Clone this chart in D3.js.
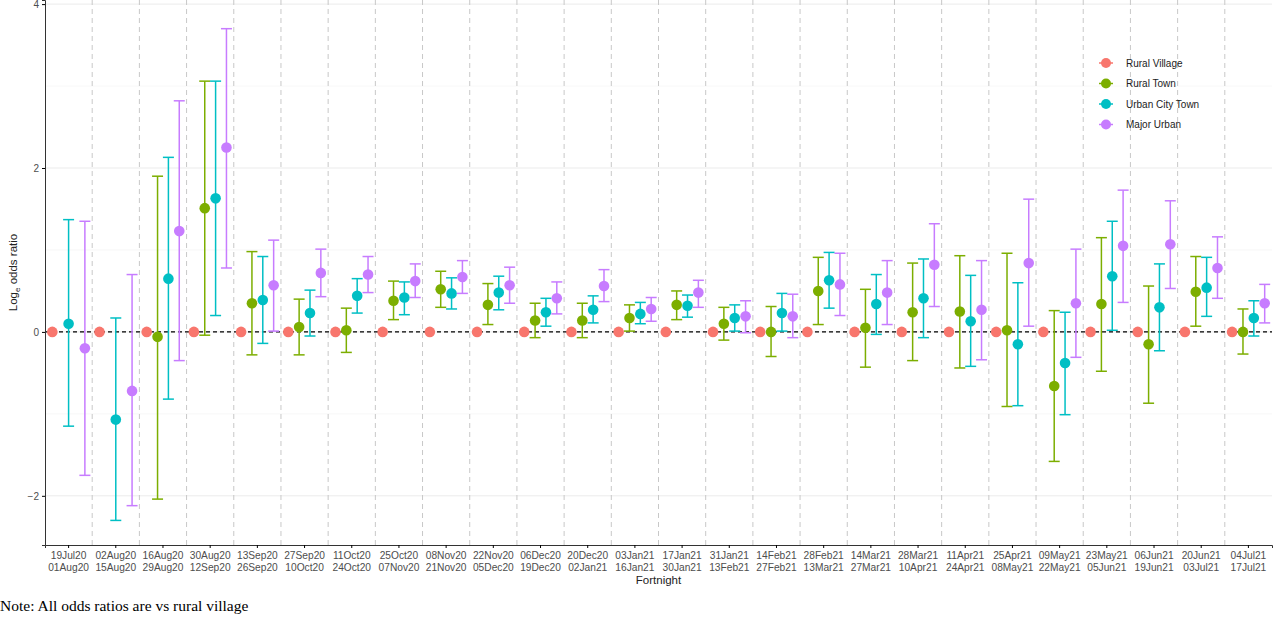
<!DOCTYPE html>
<html><head><meta charset="utf-8">
<script src="https://cdn.jsdelivr.net/npm/d3@7"></script>
<style>body{margin:0;background:#fff}svg{display:block}</style>
</head><body><svg id="c" width="1280" height="617"></svg>
<script>
const startLabels=["19Jul20","02Aug20","16Aug20","30Aug20","13Sep20","27Sep20","11Oct20","25Oct20","08Nov20","22Nov20","06Dec20","20Dec20","03Jan21","17Jan21","31Jan21","14Feb21","28Feb21","14Mar21","28Mar21","11Apr21","25Apr21","09May21","23May21","06Jun21","20Jun21","04Jul21"];
const endLabels=["01Aug20","15Aug20","29Aug20","12Sep20","26Sep20","10Oct20","24Oct20","07Nov20","21Nov20","05Dec20","19Dec20","02Jan21","16Jan21","30Jan21","13Feb21","27Feb21","13Mar21","27Mar21","10Apr21","24Apr21","08May21","22May21","05Jun21","19Jun21","03Jul21","17Jul21"];
const seriesNames=["Rural Village","Rural Town","Urban City Town","Major Urban"];
const seriesColors=["#F8766D","#7CAE00","#00BFC4","#C77CFF"];
// [estimate, lower, upper]; null = not present
const ruralTown=[null,null,[-0.06,-2.04,1.9],[1.51,-0.04,3.06],[0.35,-0.28,0.98],[0.06,-0.28,0.4],[0.02,-0.25,0.29],[0.38,0.15,0.62],[0.52,0.3,0.74],[0.33,0.09,0.59],[0.14,-0.07,0.35],[0.14,-0.07,0.35],[0.17,0.01,0.33],[0.33,0.15,0.5],[0.1,-0.1,0.3],[0,-0.3,0.31],[0.5,0.09,0.91],[0.05,-0.43,0.52],[0.24,-0.35,0.84],[0.25,-0.44,0.93],[0.02,-0.91,0.96],[-0.66,-1.58,0.26],[0.34,-0.48,1.15],[-0.15,-0.87,0.56],[0.49,0.07,0.92],[0,-0.27,0.28]];
const urbanCityTown=[[0.1,-1.15,1.37],[-1.07,-2.3,0.17],[0.65,-0.82,2.13],[1.63,0.2,3.06],[0.39,-0.14,0.92],[0.23,-0.05,0.51],[0.44,0.23,0.65],[0.42,0.21,0.61],[0.47,0.28,0.66],[0.48,0.27,0.68],[0.24,0.07,0.41],[0.27,0.11,0.44],[0.22,0.1,0.36],[0.32,0.18,0.45],[0.17,0.01,0.33],[0.23,0.01,0.47],[0.63,0.29,0.97],[0.34,-0.03,0.7],[0.41,-0.07,0.89],[0.13,-0.42,0.69],[-0.15,-0.9,0.6],[-0.38,-1.01,0.24],[0.68,0.02,1.35],[0.3,-0.23,0.83],[0.54,0.19,0.91],[0.17,-0.05,0.38]];
const majorUrban=[[-0.2,-1.75,1.35],[-0.72,-2.12,0.7],[1.23,-0.35,2.82],[2.25,0.78,3.7],[0.57,0.01,1.12],[0.72,0.43,1.01],[0.7,0.48,0.92],[0.62,0.42,0.83],[0.67,0.47,0.87],[0.57,0.35,0.79],[0.41,0.22,0.61],[0.56,0.37,0.76],[0.28,0.13,0.42],[0.48,0.3,0.63],[0.19,-0.01,0.38],[0.19,-0.07,0.46],[0.58,0.2,0.96],[0.48,0.09,0.87],[0.82,0.31,1.32],[0.27,-0.34,0.87],[0.84,0.07,1.62],[0.35,-0.31,1.01],[1.05,0.36,1.73],[1.07,0.53,1.6],[0.78,0.41,1.16],[0.35,0.11,0.58]];
const ruralVillage=startLabels.map(()=>[0,0,0]);
const yTicks=[-2,0,2,4];

const svg=d3.select("#c");
const L=45,R=1272,T=0,B=545;
const x=d3.scaleBand().domain(startLabels).range([L,R]);
const y=d3.scaleLinear().domain([-2.6,4.05]).range([B,T]);
const all=[ruralVillage,ruralTown,urbanCityTown,majorUrban];
// minor grid
[-1,1,3].forEach(v=>svg.append("line").attr("x1",L).attr("x2",R).attr("y1",y(v)).attr("y2",y(v)).attr("stroke","#f2f2f2").attr("stroke-width",0.6));
yTicks.forEach(v=>svg.append("line").attr("x1",L).attr("x2",R).attr("y1",y(v)).attr("y2",y(v)).attr("stroke","#ebebeb").attr("stroke-width",1));
// separators
startLabels.slice(1).forEach(d=>svg.append("line").attr("x1",x(d)).attr("x2",x(d)).attr("y1",T).attr("y2",B).attr("stroke","#c8c8c8").attr("stroke-dasharray","5,4").attr("stroke-width",1));
svg.append("line").attr("x1",L).attr("x2",R).attr("y1",y(0)).attr("y2",y(0)).attr("stroke","#000").attr("stroke-dasharray","4,3").attr("stroke-width",1.2);
// points
startLabels.forEach((lab,i)=>{
  const present=all.map((s,k)=>({k,v:s[i]})).filter(o=>o.v);
  const n=present.length, w=x.bandwidth()*0.69;
  present.forEach((o,j)=>{
    const cx=x(lab)+x.bandwidth()/2+(n>1?(-w/2+w*j/(n-1)):0);
    const c=seriesColors[o.k];
    if(o.k>0){
      const g=svg.append("g").attr("stroke",c).attr("stroke-width",1.5);
      g.append("line").attr("x1",cx).attr("x2",cx).attr("y1",y(o.v[1])).attr("y2",y(o.v[2]));
      [o.v[1],o.v[2]].forEach(v=>g.append("line").attr("x1",cx-5.5).attr("x2",cx+5.5).attr("y1",y(v)).attr("y2",y(v)));
    }
    svg.append("circle").attr("cx",cx).attr("cy",y(o.v[0])).attr("r",5.3).attr("fill",c);
  });
});
// axes
const ya=svg.append("g").attr("transform",`translate(${L},0)`).call(d3.axisLeft(y).tickValues(yTicks).tickSize(3).tickFormat(d3.format("d")));
ya.select(".domain").attr("stroke","#333");
ya.selectAll("text").attr("font-family","Liberation Sans, Arial").attr("font-size",10).attr("fill","#4d4d4d");
const xa=svg.append("g").attr("transform",`translate(0,${B})`).call(d3.axisBottom(x).tickSize(3).tickFormat(""));
xa.select(".domain").attr("stroke","#333");
xa.selectAll(".tick").each(function(d,i){
  const t=d3.select(this).append("text").attr("fill","#4d4d4d").attr("font-family","Liberation Sans, Arial").attr("font-size",10.2).attr("text-anchor","middle");
  t.append("tspan").attr("x",0).attr("y",14).text(d);
  t.append("tspan").attr("x",0).attr("y",25.5).text(endLabels[i]);
});
svg.append("text").attr("x",(L+R)/2).attr("y",584).attr("text-anchor","middle").attr("font-family","Liberation Sans, Arial").attr("font-size",11.5).attr("fill","#222").text("Fortnight");
const yt=svg.append("text").attr("transform",`translate(17,${(T+B)/2}) rotate(-90)`).attr("text-anchor","middle").attr("font-family","Liberation Sans, Arial").attr("font-size",11.5).attr("fill","#222");
yt.append("tspan").text("Log");yt.append("tspan").attr("font-size",8).attr("dy",3).text("e");yt.append("tspan").attr("dy",-3).text(" odds ratio");
svg.append("text").attr("x",0).attr("y",611).attr("font-family","Liberation Serif, Times New Roman").attr("font-size",15.5).attr("fill","#000").text("Note: All odds ratios are vs rural village");
// legend
seriesNames.forEach((nm,k)=>{
  const ly=63+k*20.5;
  svg.append("line").attr("x1",1099).attr("x2",1113).attr("y1",ly).attr("y2",ly).attr("stroke",seriesColors[k]).attr("stroke-width",1.5);
  svg.append("circle").attr("cx",1106).attr("cy",ly).attr("r",5).attr("fill",seriesColors[k]);
  svg.append("text").attr("x",1126).attr("y",ly+3.5).attr("font-family","Liberation Sans, Arial").attr("font-size",10).attr("fill","#222").text(nm);
});
</script></body></html>
